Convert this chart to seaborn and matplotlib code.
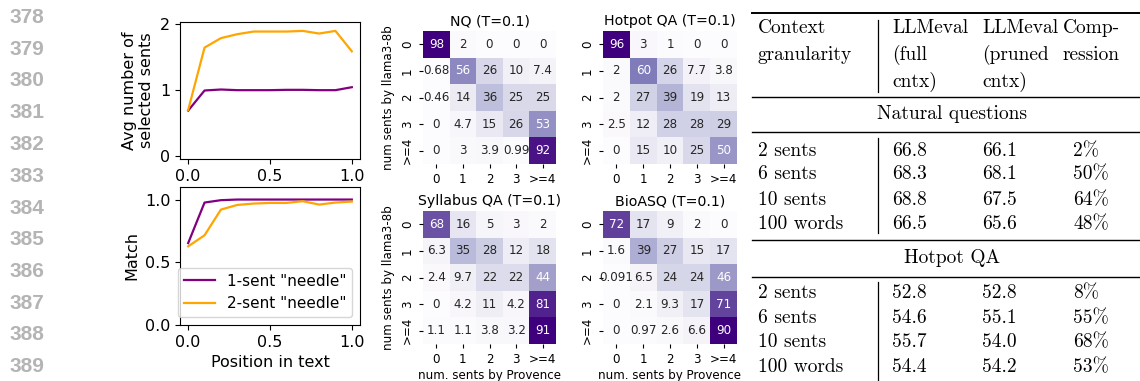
import numpy as np
import pandas as pd
import matplotlib
matplotlib.use("Agg")
import matplotlib.pyplot as plt
from matplotlib.lines import Line2D
import seaborn as sns

# ---- needle-position experiment ----
positions = [0.0, 0.1, 0.2, 0.3, 0.4, 0.5, 0.6, 0.7, 0.8, 0.9, 1.0]
avg_sel_1sent = [0.69, 0.995, 1.01, 1.0, 1.0, 1.0, 1.005, 1.005, 1.0, 1.0, 1.045]
avg_sel_2sent = [0.70, 1.646, 1.79, 1.85, 1.89, 1.89, 1.89, 1.90, 1.86, 1.90, 1.59]
match_1sent = [0.653, 0.976, 0.995, 1.0, 1.0, 1.0, 1.0, 1.0, 1.0, 1.0, 1.0]
match_2sent = [0.627, 0.715, 0.92, 0.957, 0.968, 0.973, 0.973, 0.987, 0.96, 0.976, 0.984]
series_names = ['1-sent "needle"', '2-sent "needle"']
series_colors = ["purple", "orange"]

# ---- confusion matrices (% of rows) ----
count_labels = ["0", "1", "2", "3", ">=4"]
nq_matrix = [[98, 2, 0, 0, 0],
             [0.68, 56, 26, 10, 7.4],
             [0.46, 14, 36, 25, 25],
             [0, 4.7, 15, 26, 53],
             [0, 3, 3.9, 0.99, 92]]
hotpot_matrix = [[96, 3, 1, 0, 0],
                 [2, 60, 26, 7.7, 3.8],
                 [2, 27, 39, 19, 13],
                 [2.5, 12, 28, 28, 29],
                 [0, 15, 10, 25, 50]]
syllabus_matrix = [[68, 16, 5, 3, 2],
                   [6.3, 35, 28, 12, 18],
                   [2.4, 9.7, 22, 22, 44],
                   [0, 4.2, 11, 4.2, 81],
                   [1.1, 1.1, 3.8, 3.2, 91]]
bioasq_matrix = [[72, 17, 9, 2, 0],
                 [1.6, 39, 27, 15, 17],
                 [0.091, 6.5, 24, 24, 46],
                 [0, 2.1, 9.3, 17, 71],
                 [0, 0.97, 2.6, 6.6, 90]]
heatmap_titles = ["NQ (T=0.1)", "Hotpot QA (T=0.1)", "Syllabus QA (T=0.1)", "BioASQ (T=0.1)"]

# ---- context granularity table ----
granularity = ["2 sents", "6 sents", "10 sents", "100 words"]
nq_full = ["66.8", "68.3", "68.8", "66.5"]
nq_pruned = ["66.1", "68.1", "67.5", "65.6"]
nq_compression = ["2%", "50%", "64%", "48%"]
hp_full = ["52.8", "54.6", "55.7", "54.4"]
hp_pruned = ["52.8", "55.1", "54.0", "54.2"]
hp_compression = ["8%", "55%", "68%", "53%"]

line_numbers = list(range(378, 390))

W, H = 1140, 381
fig = plt.figure(figsize=(W / 100, H / 100), dpi=100)


def px_axes(x0, y0, x1, y1):
    return fig.add_axes([x0 / W, 1 - y1 / H, (x1 - x0) / W, (y1 - y0) / H])


def fx(x):
    return x / W


def fy(y):
    return 1 - y / H


# margin line numbers
for i, n in enumerate(line_numbers):
    fig.text(fx(10), fy(23 + i * 31.75), str(n), family="Liberation Sans",
             weight="bold", fontsize=15, color="#b4b4b4", va="baseline", ha="left")

# line plots
needle_df = pd.DataFrame({
    "pos": positions * 2,
    "avg": avg_sel_1sent + avg_sel_2sent,
    "match": match_1sent + match_2sent,
    "series": [series_names[0]] * len(positions) + [series_names[1]] * len(positions),
})
palette = dict(zip(series_names, series_colors))

ax_top = px_axes(180, 22, 360, 159)
sns.lineplot(data=needle_df, x="pos", y="avg", hue="series", palette=palette,
             ax=ax_top, legend=False, linewidth=1.6)
ax_top.set_ylim(-0.045, 2.035)
ax_top.set_yticks([0, 1, 2])
ax_top.set_xticks([0.0, 0.5, 1.0])
ax_top.set_xticklabels(["0.0", "0.5", "1.0"])
ax_top.set_xlabel("")
ax_top.set_ylabel("Avg number of\nselected sents", fontsize=11.5, labelpad=4)
ax_top.tick_params(labelsize=11.5)

ax_bot = px_axes(180, 187, 360, 325)
sns.lineplot(data=needle_df, x="pos", y="match", hue="series", palette=palette,
             ax=ax_bot, linewidth=1.6)
ax_bot.set_ylim(0.0, 1.1)
ax_bot.set_yticks([0.0, 0.5, 1.0])
ax_bot.set_yticklabels(["0.0", "0.5", "1.0"])
ax_bot.set_xticks([0.0, 0.5, 1.0])
ax_bot.set_xticklabels(["0.0", "0.5", "1.0"])
ax_bot.set_xlabel("Position in text", fontsize=11.5)
ax_bot.set_ylabel("Match", fontsize=11.5)
ax_bot.tick_params(labelsize=11.5)
ax_bot.legend(loc="lower right", fontsize=11, title=None, handlelength=2.0)

# heatmaps
boxes = [(423, 31, 556, 164), (603, 31, 737, 164), (423, 211, 556, 344), (603, 211, 737, 344)]
mats = [nq_matrix, hotpot_matrix, syllabus_matrix, bioasq_matrix]
for k, (box, mat, title) in enumerate(zip(boxes, mats, heatmap_titles)):
    ax = px_axes(*box)
    sns.heatmap(np.array(mat, dtype=float), ax=ax, cmap="Purples", annot=True, fmt=".2g",
                annot_kws={"fontsize": 8.6}, cbar=False,
                xticklabels=count_labels, yticklabels=count_labels)
    ax.set_title(title, fontsize=10.2, pad=4)
    ax.tick_params(labelsize=8.6, length=3)
    ax.set_yticklabels(count_labels, rotation=90, va="center")
    ax.set_xticklabels(count_labels, rotation=0)
    if k % 2 == 0:
        ax.set_ylabel("num sents by llama3-8b", fontsize=8.6)
    if k >= 2:
        ax.set_xlabel("num. sents by Provence", fontsize=8.6, labelpad=2)

# table
tfont = dict(family="cmr10", fontsize=14, va="baseline", ha="left", color="black")
cols = [758, 892, 982, 1063]


def hline(y, lw=1.0):
    fig.add_artist(Line2D([fx(752), fx(1140)], [fy(y), fy(y)], color="black", lw=lw))


def vline(y0, y1):
    fig.add_artist(Line2D([fx(878), fx(878)], [fy(y0), fy(y1)], color="black", lw=0.9))


hline(13, 1.4)
header = [["Context", "LLMeval", "LLMeval", "Comp-"],
          ["granularity", "(full", "(pruned", "ression"],
          ["", "cntx)", "cntx)", ""]]
for r, base in enumerate([33, 60, 87]):
    for c, txt in enumerate(header[r]):
        if txt:
            fig.text(fx(cols[c]), fy(base), txt, **tfont)
vline(20, 92)
hline(97, 1.0)
fig.text(fx(952), fy(119), "Natural questions", **{**tfont, "ha": "center"})
hline(132, 1.0)
vline(138, 233)
for i, base in enumerate([156, 179, 205, 229]):
    fig.text(fx(cols[0]), fy(base), granularity[i], **tfont)
    fig.text(fx(cols[1]), fy(base), nq_full[i], **tfont)
    fig.text(fx(cols[2]), fy(base), nq_pruned[i], **tfont)
    fig.text(fx(1073), fy(base), nq_compression[i], **tfont)
hline(240, 1.0)
fig.text(fx(952), fy(263), "Hotpot QA", **{**tfont, "ha": "center"})
hline(277, 1.0)
vline(282, 381)
for i, base in enumerate([298, 323, 347, 372]):
    fig.text(fx(cols[0]), fy(base), granularity[i], **tfont)
    fig.text(fx(cols[1]), fy(base), hp_full[i], **tfont)
    fig.text(fx(cols[2]), fy(base), hp_pruned[i], **tfont)
    fig.text(fx(1073), fy(base), hp_compression[i], **tfont)

fig.savefig("out.png", dpi=100)
